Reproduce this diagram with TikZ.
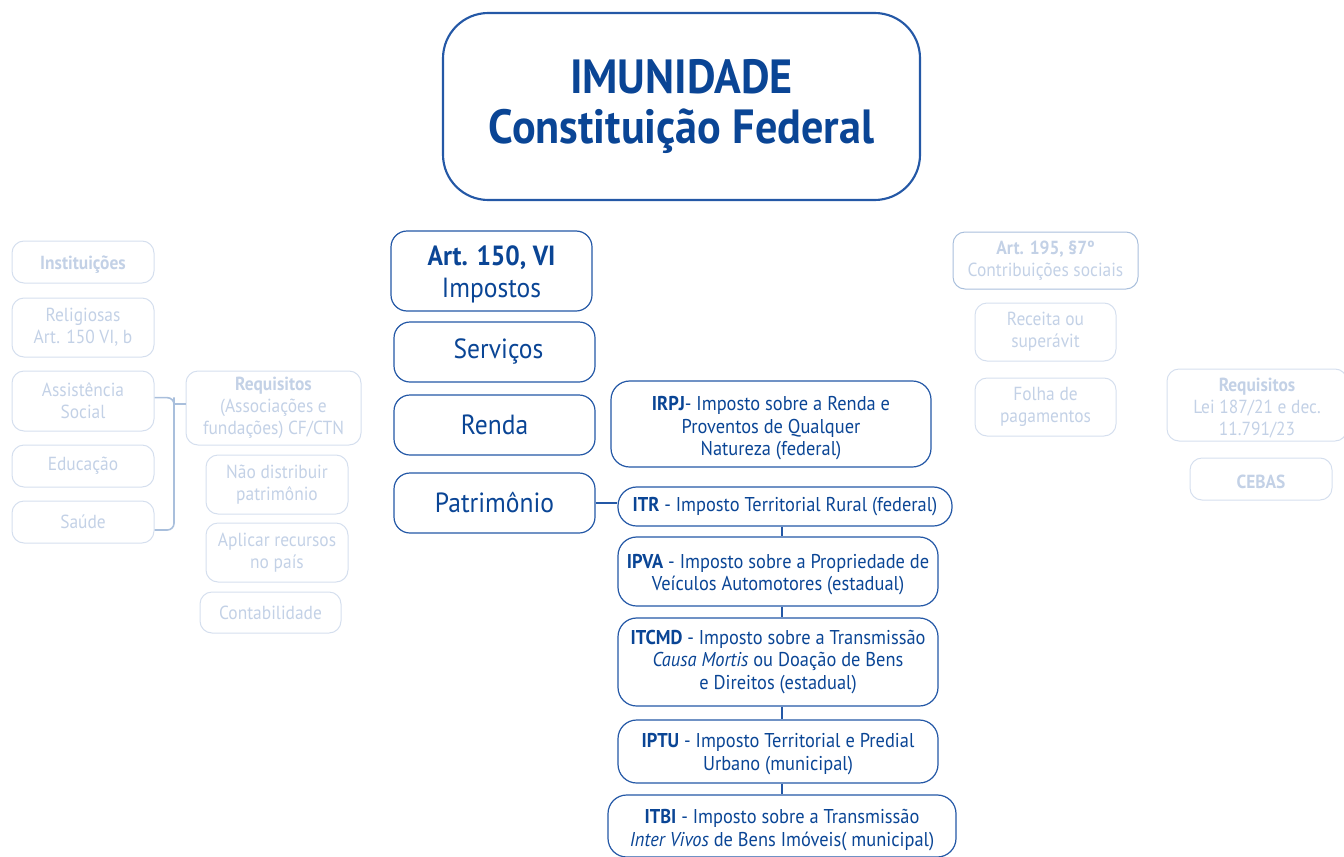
\documentclass[tikz,border=0pt]{standalone}
\usepackage{fontspec}
\setmainfont{PT Sans}[FakeStretch=0.92]
\usetikzlibrary{calc}
\definecolor{dblue}{HTML}{0A4595}
\definecolor{mblue}{HTML}{2458A6}
\definecolor{ltxt}{HTML}{C3D1E6}
\definecolor{lbord}{HTML}{D5DFEE}
\definecolor{lbord2}{HTML}{A9BFDC}
\newcommand\dnstrut[1]{\rule{0pt}{#1}}
\tikzset{
  sz/.style 2 args={minimum width=#1*0.75pt, minimum height=#2*0.75pt},
  mainbox/.style={draw=mblue, line width=1.6pt, rounded corners=34pt, align=center, inner sep=0pt, text=dblue},
  midbox/.style={draw=mblue, line width=0.9pt, rounded corners=12pt, align=center, inner sep=0pt, text=dblue, font=\fontsize{20.8}{23.5}\selectfont},
  taxbox/.style={draw=mblue, line width=0.9pt, rounded corners=14pt, align=center, inner sep=0pt, text=dblue, font=\fontsize{15}{17}\selectfont},
  lbox/.style={draw=lbord, line width=0.75pt, rounded corners=9pt, align=center, inner sep=0pt, text=ltxt, font=\fontsize{14.2}{16.5}\selectfont},
  conn/.style={draw=mblue, line width=0.9pt},
  brk/.style={draw=lbord2, line width=1.2pt},
}
\begin{document}
\begin{tikzpicture}[x=0.75pt,y=-0.75pt]
\useasboundingbox (0,0) rectangle (1344,856);
% main
\node[mainbox, sz={477}{187}, font=\fontsize{36}{37.5}\selectfont\bfseries] (main) at (681.5,106.5) {IMUNIDADE\\Constituição Federal};
% center column
\node[midbox, sz={201}{80}] (art150) at (491.5,271) {\dnstrut{20pt}\textbf{Art. 150, VI}\\Impostos};
\node[midbox, sz={201}{60}] (serv) at (494.5,352) {\hspace*{6pt}Serviços};
\node[midbox, sz={201}{60}] (renda) at (494.5,425) {Renda};
\node[midbox, sz={201}{60}] (patr) at (494.5,503) {Patrimônio};
% taxes
\node[taxbox, sz={320}{86}] (irpj) at (771,424) {\dnstrut{17pt}\textbf{IRPJ}- Imposto sobre a Renda e\\Proventos de Qualquer\\Natureza (federal)};
\node[taxbox, sz={334}{39}] (itr) at (785,506.5) {\textbf{ITR} - Imposto Territorial Rural (federal)};
\node[taxbox, sz={320}{69}] (ipva) at (778,571.5) {\dnstrut{15.5pt}\textbf{IPVA} - Imposto sobre a Propriedade de\\Veículos Automotores (estadual)};
\node[taxbox, sz={320}{88}] (itcmd) at (778,662) {\textbf{ITCMD} - Imposto sobre a Transmissão\\\textit{Causa Mortis} ou Doação de Bens\\e Direitos (estadual)};
\node[taxbox, sz={320}{63}] (iptu) at (778,751.5) {\dnstrut{14.5pt}\textbf{IPTU} - Imposto Territorial e Predial\\Urbano (municipal)};
\node[taxbox, sz={348}{62}] (itbi) at (782,826) {\dnstrut{17pt}\textbf{ITBI} - Imposto sobre a Transmissão\\\textit{Inter Vivos} de Bens Imóveis( municipal)};
\draw[conn] (patr.east) -- (itr.west |- patr.east);
\draw[conn] (itr.south -| itbi.north) -- (ipva.north -| itbi.north);
\draw[conn] (ipva.south -| itbi.north) -- (itcmd.north -| itbi.north);
\draw[conn] (itcmd.south -| itbi.north) -- (iptu.north -| itbi.north);
\draw[conn] (iptu.south -| itbi.north) -- (itbi.north);
% left column
\node[lbox, sz={142}{42}] (inst) at (83,262) {\dnstrut{14pt}\textbf{Instituições}};
\node[lbox, sz={142}{59}] (relig) at (83,327.5) {Religiosas\\Art. 150 VI, b};
\node[lbox, sz={142}{60}] (assist) at (83,401) {Assistência\\Social};
\node[lbox, sz={142}{42}] (educ) at (83,466) {Educação};
\node[lbox, sz={142}{42}] (saude) at (83,522) {Saúde};
\node[lbox, sz={175}{74}] (req) at (273.5,408) {\textbf{Requisitos}\\(Associações e\\fundações) CF/CTN};
\node[lbox, sz={142}{59}] (naodist) at (277,484.5) {Não distribuir\\patrimônio};
\node[lbox, sz={142}{59}] (aplicar) at (277,552.5) {Aplicar recursos\\no país};
\node[lbox, sz={141}{41}] (contab) at (270.5,612.5) {Contabilidade};
\coordinate (bx) at (174,404);
\draw[brk, rounded corners=5pt] ([yshift=2.5pt]assist.east) -| (bx) |- ([yshift=-6pt]saude.east);
\draw[brk] (bx) -- (bx -| req.west);
% right column
\node[lbox, draw=lbord2, sz={185}{57}] (art195) at (1045.5,260.5) {\textbf{Art. 195, §7º}\\Contribuições sociais};
\node[lbox, sz={141}{58}] (receita) at (1045.5,332) {Receita ou\\superávit};
\node[lbox, sz={141}{58}] (folha) at (1045.5,407) {Folha de\\pagamentos};
\node[lbox, sz={180}{72}] (req2) at (1257,405) {\dnstrut{14pt}\textbf{Requisitos}\\Lei 187/21 e dec.\\11.791/23};
\node[lbox, sz={142}{42}] (cebas) at (1261,479) {\dnstrut{14pt}\textbf{CEBAS}};
\end{tikzpicture}
\end{document}
